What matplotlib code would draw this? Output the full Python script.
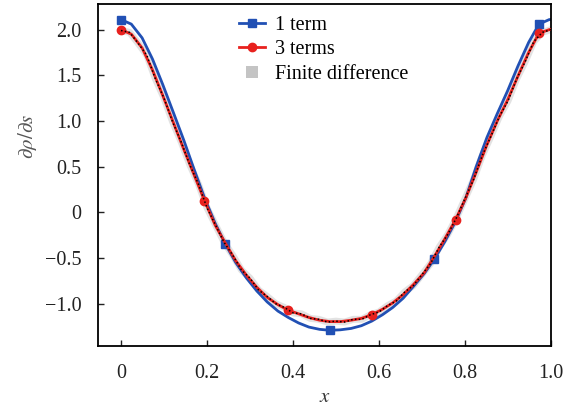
import numpy as np
import matplotlib
matplotlib.use('Agg')
import matplotlib.pyplot as plt
from matplotlib.lines import Line2D

plt.rcParams['font.family'] = ['Liberation Serif', 'DejaVu Serif']
plt.rcParams['mathtext.fontset'] = 'stix'

# common x grid of the analytic curves (markers every 10 / 8 points)
x_curve = [0.000, 0.024, 0.049, 0.073, 0.097, 0.122, 0.146, 0.170, 0.194, 0.219,
           0.243, 0.267, 0.292, 0.316, 0.340, 0.365, 0.389, 0.413, 0.437, 0.462,
           0.486, 0.510, 0.535, 0.559, 0.583, 0.608, 0.632, 0.656, 0.680, 0.705,
           0.729, 0.753, 0.778, 0.802, 0.826, 0.851, 0.875, 0.899, 0.923, 0.948,
           0.972, 0.996, 1.000]

one_term = [2.11, 2.06, 1.91, 1.68, 1.40, 1.09, 0.79, 0.47, 0.16, -0.12,
            -0.35, -0.55, -0.72, -0.86, -0.98, -1.08, -1.15, -1.21, -1.255, -1.28,
            -1.29, -1.285, -1.27, -1.24, -1.19, -1.12, -1.04, -0.94, -0.81, -0.67,
            -0.51, -0.32, -0.10, 0.16, 0.50, 0.82, 1.08, 1.33, 1.60, 1.86,
            2.06, 2.11, 2.11]

three_terms = [2.00, 1.95, 1.80, 1.56, 1.28, 0.98, 0.69, 0.41, 0.13, -0.14,
               -0.34, -0.53, -0.69, -0.82, -0.93, -1.01, -1.07, -1.11, -1.15, -1.18,
               -1.195, -1.195, -1.18, -1.16, -1.12, -1.06, -0.99, -0.90, -0.79, -0.66,
               -0.48, -0.29, -0.08, 0.16, 0.44, 0.74, 1.00, 1.23, 1.49, 1.75,
               1.96, 2.00, 2.00]

x_fd = [0.00, 0.02, 0.04, 0.06, 0.08, 0.10, 0.12, 0.14, 0.16, 0.18,
        0.20, 0.22, 0.24, 0.26, 0.28, 0.30, 0.32, 0.34, 0.36, 0.38,
        0.40, 0.42, 0.44, 0.46, 0.48, 0.50, 0.52, 0.54, 0.56, 0.58,
        0.60, 0.62, 0.64, 0.66, 0.68, 0.70, 0.72, 0.74, 0.76, 0.78,
        0.80, 0.82, 0.84, 0.86, 0.88, 0.90, 0.92, 0.94, 0.96, 0.98, 1.00]

finite_diff = [1.99, 1.97, 1.85, 1.72, 1.46, 1.25, 0.99, 0.77, 0.52, 0.31,
               0.05, -0.14, -0.33, -0.47, -0.63, -0.72, -0.85, -0.92, -1.00, -1.04,
               -1.10, -1.11, -1.16, -1.17, -1.20, -1.19, -1.20, -1.17, -1.17, -1.12,
               -1.09, -1.02, -0.97, -0.87, -0.80, -0.68, -0.56, -0.38, -0.24, -0.06,
               0.15, 0.36, 0.62, 0.83, 1.05, 1.22, 1.46, 1.65, 1.87, 1.97, 2.00]

xticks = [0, 0.2, 0.4, 0.6, 0.8, 1.0]
xtick_labels = ['0', '0.2', '0.4', '0.6', '0.8', '1.0']
yticks = [-1.0, -0.5, 0, 0.5, 1.0, 1.5, 2.0]
ytick_labels = ['\u22121.0', '\u22120.5', '0', '0.5', '1.0', '1.5', '2.0']

blue = '#2150b4'
red = '#e8211e'

fig = plt.figure(figsize=(5.71, 4.07), dpi=100)
ax = fig.add_axes([0.172, 0.151, 0.793, 0.838])

# finite difference: grey halo under, black dotted trace on top
ax.plot(x_fd, finite_diff, color='#d0d0d0', lw=5, alpha=0.6,
        solid_capstyle='round', zorder=1)
ax.plot(x_curve, one_term, color=blue, lw=2, marker='s', markersize=6,
        markevery=10, zorder=2)
ax.plot(x_curve, three_terms, color=red, lw=2, marker='o', markersize=6,
        markevery=8, zorder=3)
ax.plot(x_fd, finite_diff, color='black', lw=1.1, linestyle=(0, (1, 1.5)), zorder=4)

ax.set_xlim(-0.053, 1.0)
ax.set_ylim(-1.457, 2.275)
ax.set_xticks(xticks)
ax.set_xticklabels(xtick_labels)
ax.set_yticks(yticks)
ax.set_yticklabels(ytick_labels)
ax.tick_params(direction='in', length=4, width=1, labelsize=14.5, colors='#222222')
ax.tick_params(axis='x', pad=13)
ax.tick_params(axis='y', pad=12)
for s in ax.spines.values():
    s.set_linewidth(1.3)

ax.set_xlabel(r'$x$', fontsize=15, color='#333333', labelpad=4)
ax.set_ylabel(r'$\partial\rho/\partial s$', fontsize=15, color='#555555')
ax.yaxis.set_label_coords(-0.13, 0.615)

handles = [
    Line2D([], [], color=blue, lw=2, marker='s', markersize=6),
    Line2D([], [], color=red, lw=2, marker='o', markersize=6),
    Line2D([], [], linestyle='none', marker='s', markersize=9,
           color='#c4c4c4', markeredgewidth=0),
]
labels = ['1 term', '3 terms', 'Finite difference']
ax.legend(handles, labels, loc='upper left', bbox_to_anchor=(0.311, 0.967),
          frameon=False, fontsize=14.5, handlelength=1.3, labelspacing=0.27,
          handletextpad=0.5, borderpad=0, borderaxespad=0)

fig.savefig('out.png', dpi=100)
